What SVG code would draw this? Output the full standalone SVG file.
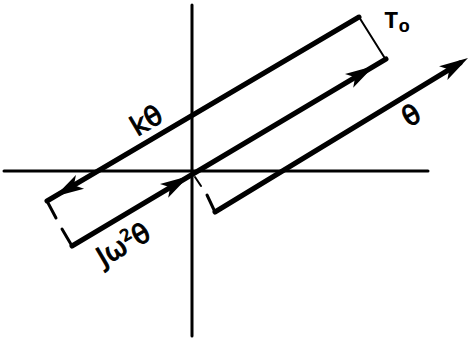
<svg xmlns="http://www.w3.org/2000/svg" xmlns:xlink="http://www.w3.org/1999/xlink" width="469" height="340" viewBox="0 0 469 340">
<style>
.axis{stroke:#000;stroke-width:3;fill:none;stroke-linecap:round}
.thick{stroke:#000;stroke-width:5;fill:none;stroke-linecap:round}
.thin{stroke:#000;stroke-width:2;fill:none;stroke-linecap:round}
.tick{stroke:#000;stroke-width:3;fill:none;stroke-linecap:round}
.lbl{font-family:"DejaVu Sans","Liberation Sans",sans-serif;font-size:27px;fill:#000;stroke:#000;stroke-width:1;text-anchor:middle}
</style>
<defs>
<path id="ah" d="M0,0 L-29,-8 L-22,0 L-29,8 Z" fill="#000"/>
</defs>
<rect width="469" height="340" fill="#fff"/>
<g id="axes">
<line class="axis" x1="4" y1="171" x2="428" y2="171"/>
<line class="axis" x1="192" y1="5" x2="192" y2="336"/>
</g>
<g id="connectors">
<line class="thick" x1="47" y1="201" x2="359" y2="17"/>
<line class="thin" x1="359" y1="17" x2="386" y2="60"/>
<line class="thick" x1="72" y1="246" x2="386" y2="59"/>
<line class="thick" x1="215" y1="212" x2="460" y2="63"/>
<line class="tick" x1="47" y1="201" x2="56" y2="218"/>
<line class="tick" x1="62" y1="229" x2="72" y2="246"/>
<line class="tick" x1="207" y1="195" x2="215" y2="212"/>
<line class="thin" x1="195" y1="177" x2="201" y2="186"/>
<use xlink:href="#ah" transform="translate(55,196.5) rotate(149.5)"/>
<use xlink:href="#ah" transform="translate(374,66) rotate(-30.8)"/>
<use xlink:href="#ah" transform="translate(189,176) rotate(-30.8)"/>
<use xlink:href="#ah" transform="translate(468,58) rotate(-31.3)"/>
</g>
<g id="label-k">
<text class="lbl" transform="translate(146,120) rotate(-30.5)" y="10">kθ</text>
</g>
<g id="label-T0">
<text font-family="'Liberation Mono',monospace" font-weight="bold" font-size="24" x="384" y="28">T<tspan font-size="19" dy="4">o</tspan></text>
</g>
<g id="label-theta">
<text class="lbl" transform="translate(411,115) rotate(-31)" y="10">θ</text>
</g>
<g id="label-J">
<text class="lbl" transform="translate(123,244) rotate(-30.5)" y="10">Jω<tspan font-size="16" dy="-11">2</tspan><tspan dy="11">θ</tspan></text>
</g>
</svg>
